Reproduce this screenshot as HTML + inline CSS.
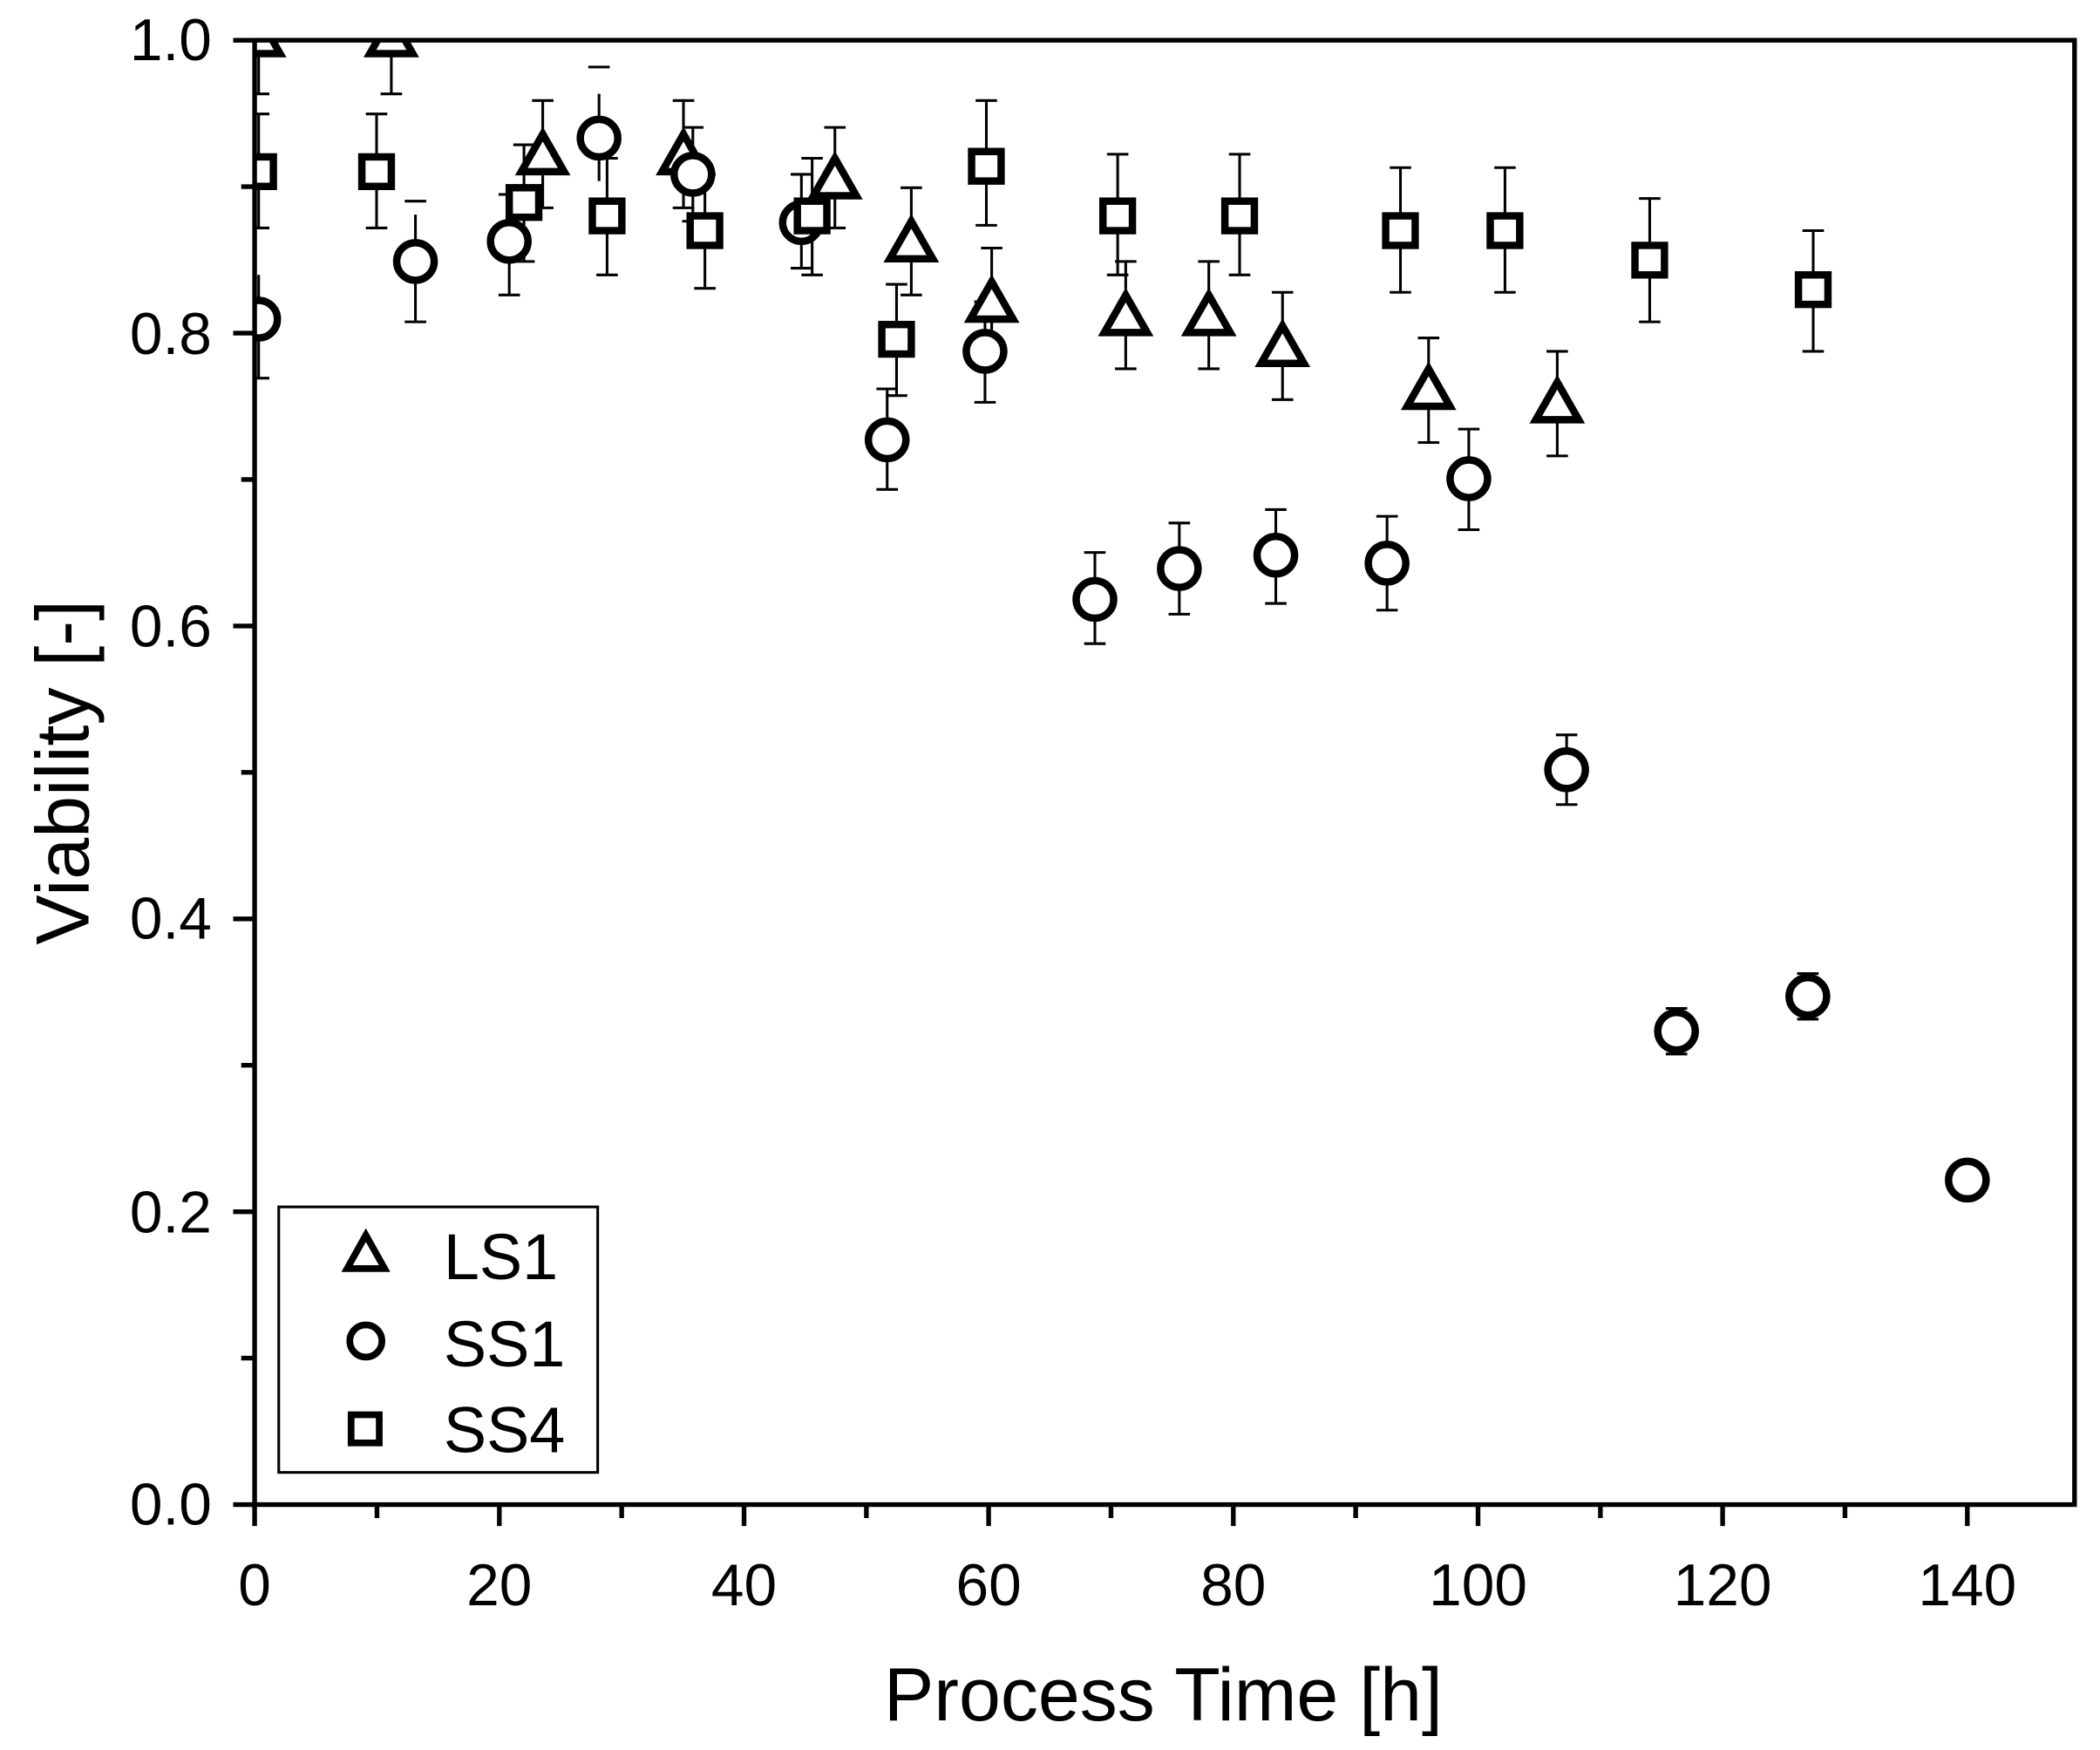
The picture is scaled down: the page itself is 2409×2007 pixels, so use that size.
<!DOCTYPE html>
<html><head><meta charset="utf-8"><style>html,body{margin:0;padding:0;background:#fff}svg{display:block}</style></head>
<body>
<svg width="2409" height="2007" viewBox="0 0 1567 1305" preserveAspectRatio="none" xmlns="http://www.w3.org/2000/svg" font-family="Liberation Sans, Arial, sans-serif">
<rect width="1567" height="1305" fill="#fff"/>
<defs><clipPath id="c"><rect x="190" y="30" width="1358" height="1092"/></clipPath></defs>
<g clip-path="url(#c)" stroke="#000" fill="none">
<g stroke-width="2">
<path d="M193 0V70M292 0V70M405 75V155M510 75V155M623 95V170M680 140V220M740 185V265M840 195V275M902 195V275M957 218V298M1066 252V330M1162 262V340"/>
<path d="M185 70h16M284 70h16M397 75h16M397 155h16M502 75h16M502 155h16M615 95h16M615 170h16M672 140h16M672 220h16M732 185h16M732 265h16M832 195h16M832 275h16M894 195h16M894 275h16M949 218h16M949 298h16M1058 252h16M1058 330h16M1154 262h16M1154 340h16"/>
<path d="M193 205V282M310 160V240M380 145V220M447 70V135M517 95V165M598 130V200M662 290V365M735 225V300M817 412V480M880 390V458M952 380V450M1035 385V455M1096 320V395M1169 548V600M1251 752V786M1349 726V760"/>
<path d="M185 282h16M302 150h16M302 240h16M372 145h16M372 220h16M439 50h16M509 95h16M509 165h16M590 130h16M590 200h16M654 290h16M654 365h16M727 225h16M727 300h16M809 412h16M809 480h16M872 390h16M872 458h16M944 380h16M944 450h16M1027 385h16M1027 455h16M1088 320h16M1088 395h16M1161 548h16M1161 600h16M1243 752h16M1243 786h16M1341 726h16M1341 760h16"/>
<path d="M193 85V170M281 85V170M391 108V195M453 118V205M526 130V215M606 118V205M669 212V295M736 75V168M834 115V205M925 115V205M1045 125V218M1123 125V218M1231 148V240M1353 172V262"/>
<path d="M185 85h16M185 170h16M273 85h16M273 170h16M383 108h16M383 195h16M445 118h16M445 205h16M518 130h16M518 215h16M598 118h16M598 205h16M661 212h16M661 295h16M728 75h16M728 168h16M826 115h16M826 205h16M917 115h16M917 205h16M1037 125h16M1037 218h16M1115 125h16M1115 218h16M1223 148h16M1223 240h16M1345 172h16M1345 262h16"/>
</g>
<g stroke-width="5.5" fill="#fff">
<g>
<path d="M193 12l-16 28h32z"/><path d="M292 12l-16 28h32z"/><path d="M405 100l-16 28h32z"/><path d="M510 100l-16 28h32z"/><path d="M623 118l-16 28h32z"/><path d="M680 165l-16 28h32z"/><path d="M740 210l-16 28h32z"/><path d="M840 220l-16 28h32z"/><path d="M902 220l-16 28h32z"/><path d="M957 243l-16 28h32z"/><path d="M1066 275l-16 28h32z"/><path d="M1162 285l-16 28h32z"/>
</g>
<g>
<circle cx="193" cy="238" r="14"/><circle cx="310" cy="195" r="14"/><circle cx="380" cy="180" r="14"/><circle cx="447" cy="103" r="14"/><circle cx="517" cy="130" r="14"/><circle cx="598" cy="166" r="14"/><circle cx="662" cy="328" r="14"/><circle cx="735" cy="262" r="14"/><circle cx="817" cy="447" r="14"/><circle cx="880" cy="424" r="14"/><circle cx="952" cy="414" r="14"/><circle cx="1035" cy="420" r="14"/><circle cx="1096" cy="357" r="14"/><circle cx="1169" cy="574" r="14"/><circle cx="1251" cy="769" r="14"/><circle cx="1349" cy="743" r="14"/><circle cx="1468" cy="880" r="14"/>
</g>
<g>
<rect x="182" y="117" width="22" height="22"/><rect x="270" y="117" width="22" height="22"/><rect x="380" y="140" width="22" height="22"/><rect x="442" y="150" width="22" height="22"/><rect x="515" y="161" width="22" height="22"/><rect x="595" y="150" width="22" height="22"/><rect x="658" y="242" width="22" height="22"/><rect x="725" y="113" width="22" height="22"/><rect x="823" y="150" width="22" height="22"/><rect x="914" y="150" width="22" height="22"/><rect x="1034" y="161" width="22" height="22"/><rect x="1112" y="161" width="22" height="22"/><rect x="1220" y="183" width="22" height="22"/><rect x="1342" y="205" width="22" height="22"/>
</g>
</g>
</g>
<g stroke="#000" fill="none" stroke-width="3.5">
<rect x="190" y="30" width="1358" height="1092"/>
<path d="M190 1122v16M372.6 1122v16M555.2 1122v16M737.7 1122v16M920.3 1122v16M1102.9 1122v16M1285.4 1122v16M1468 1122v16"/>
<path d="M281.3 1122v10M463.9 1122v10M646.5 1122v10M829 1122v10M1011.6 1122v10M1194.2 1122v10M1376.7 1122v10"/>
<path d="M174 1122h16M174 903.6h16M174 685.2h16M174 466.8h16M174 248.4h16M174 30h16"/>
<path d="M180 1012.8h10M180 794.4h10M180 576h10M180 357.6h10M180 139.2h10"/>
</g>
<g font-size="44" fill="#000" text-anchor="end">
<text x="158" y="1137">0.0</text><text x="158" y="919">0.2</text><text x="158" y="700">0.4</text><text x="158" y="482">0.6</text><text x="158" y="264">0.8</text><text x="158" y="45">1.0</text>
</g>
<g font-size="44" fill="#000" text-anchor="middle">
<text x="190" y="1197">0</text><text x="372.6" y="1197">20</text><text x="555.2" y="1197">40</text><text x="737.7" y="1197">60</text><text x="920.3" y="1197">80</text><text x="1102.9" y="1197">100</text><text x="1285.4" y="1197">120</text><text x="1468" y="1197">140</text>
</g>
<text x="868" y="1283" font-size="56" text-anchor="middle">Process Time [h]</text>
<text transform="translate(66 576) rotate(-90)" font-size="56" text-anchor="middle">Viability [-]</text>
<rect x="208" y="900" width="238" height="198" fill="#fff" stroke="#000" stroke-width="2"/>
<g stroke="#000" stroke-width="5" fill="#fff">
<path d="M273 921l-14 25h28z"/>
<circle cx="273" cy="1000" r="12"/>
<rect x="262" y="1055" width="21" height="21"/>
</g>
<g font-size="48" fill="#000">
<text x="331" y="954">LS1</text><text x="331" y="1019">SS1</text><text x="331" y="1083">SS4</text>
</g>
</svg>
</body></html>
